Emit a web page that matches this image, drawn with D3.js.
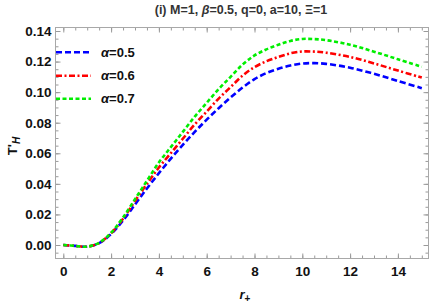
<!DOCTYPE html>
<html lang="en">
<head>
<meta charset="UTF-8">
<title>T'H vs r+</title>
<script src="https://d3js.org/d3.v7.min.js"></script>
<style>
  body { margin: 0; background: #fff; }
  svg text { font-family: 'Liberation Sans', Arial, sans-serif; }
  .tick text { font-weight: bold; font-size: 13.5px; fill: #111; }
</style>
</head>
<body>
<svg width="431" height="308"></svg>
<script>
    // values
    const rPlus = [0, 0.5, 1, 1.5, 2, 2.5, 3, 3.5, 4, 4.5, 5, 5.5, 6, 6.5, 7, 7.5, 8, 8.5, 9, 9.5, 10, 10.5, 11, 12, 13, 14, 15];
    const alpha05 = [0, -0.0006, -0.0011, 0.0012, 0.0072, 0.016, 0.0265, 0.037, 0.047, 0.0565, 0.0655, 0.074, 0.082, 0.0895, 0.0965, 0.103, 0.1085, 0.1125, 0.1153, 0.1174, 0.1187, 0.119, 0.1185, 0.116, 0.112, 0.1073, 0.1026];
    const alpha06 = [0, -0.0006, -0.0011, 0.0013, 0.0077, 0.0172, 0.0288, 0.04, 0.0507, 0.0601, 0.0695, 0.0789, 0.0873, 0.0958, 0.1033, 0.1108, 0.1164, 0.1202, 0.123, 0.1254, 0.1266, 0.1265, 0.1258, 0.123, 0.1188, 0.1141, 0.1095];
    const alpha07 = [0, -0.0006, -0.0011, 0.0015, 0.008, 0.018, 0.03, 0.042, 0.054, 0.064, 0.074, 0.084, 0.093, 0.102, 0.11, 0.118, 0.124, 0.128, 0.131, 0.1335, 0.1348, 0.1347, 0.134, 0.131, 0.1265, 0.1215, 0.1166];
    const seriesNames = ['0.5', '0.6', '0.7'];
    const xTicks = [0, 2, 4, 6, 8, 10, 12, 14];
    const yTicks = [0, 0.02, 0.04, 0.06, 0.08, 0.1, 0.12, 0.14];

    const series = [
      { name: seriesNames[0], values: alpha05, color: '#0000ff', dash: '6,3' },
      { name: seriesNames[1], values: alpha06, color: '#ff0000', dash: '6,2.5,2,2.5' },
      { name: seriesNames[2], values: alpha07, color: '#00ee00', dash: '4,2.5' }
    ];

    const svg = d3.select('svg');

    // frame box
    const frameL = 55.5, frameR = 428.5, frameT = 27.5, frameB = 258.5;

    const x = d3.scaleLinear().domain([0, 15]).range([63.3, 421.8]);
    const y = d3.scaleLinear().domain([0, 0.14]).range([245, 31]);

    const minorX = d3.range(0, 15.01, 0.5);
    const minorY = d3.range(-0.005, 0.1426, 0.005);

    const tickColor = '#9a9a9a';

    // bottom
    const gb = svg.append('g').attr('transform', `translate(0, ${frameB})`);
    gb.call(d3.axisBottom(x).tickValues(minorX).tickSize(-3).tickFormat(''));
    gb.append('g').call(d3.axisBottom(x).tickValues(xTicks).tickSize(-5).tickPadding(8).tickFormat(d3.format('d')));
    // top
    const gt = svg.append('g').attr('transform', `translate(0, ${frameT})`);
    gt.call(d3.axisTop(x).tickValues(minorX).tickSize(-3).tickFormat(''));
    gt.append('g').call(d3.axisTop(x).tickValues(xTicks).tickSize(-5).tickFormat(''));
    // left
    const gl = svg.append('g').attr('transform', `translate(${frameL}, 0)`);
    gl.call(d3.axisLeft(y).tickValues(minorY).tickSize(-3).tickFormat(''));
    gl.append('g').call(d3.axisLeft(y).tickValues(yTicks).tickSize(-5).tickPadding(4).tickFormat(d3.format('.2f')));
    // right
    const gr = svg.append('g').attr('transform', `translate(${frameR}, 0)`);
    gr.call(d3.axisRight(y).tickValues(minorY).tickSize(-3).tickFormat(''));
    gr.append('g').call(d3.axisRight(y).tickValues(yTicks).tickSize(-5).tickFormat(''));

    svg.selectAll('.domain').remove();
    svg.selectAll('.tick line').attr('stroke', tickColor);

    svg.append('rect')
      .attr('x', frameL).attr('y', frameT)
      .attr('width', frameR - frameL).attr('height', frameB - frameT)
      .attr('fill', 'none')
      .attr('stroke', '#a8a8a8')
      .attr('stroke-width', 1);

    const line = d3.line()
      .x((d, i) => x(rPlus[i]))
      .y((d) => y(d))
      .curve(d3.curveCatmullRom);

    series.forEach((s) => {
      svg.append('path')
        .attr('d', line(s.values))
        .attr('fill', 'none')
        .attr('stroke', s.color)
        .attr('stroke-width', 2.6)
        .attr('stroke-dasharray', s.dash);
    });

    // legend
    const legY = [52.3, 75.7, 98.7];
    series.forEach((s, i) => {
      svg.append('line')
        .attr('x1', 56).attr('x2', 91)
        .attr('y1', legY[i]).attr('y2', legY[i])
        .attr('stroke', s.color)
        .attr('stroke-width', 2.6)
        .attr('stroke-dasharray', s.dash);
      const t = svg.append('text')
        .attr('x', 101).attr('y', legY[i] + 4.5)
        .attr('font-size', 13).attr('font-weight', 'bold').attr('fill', '#111');
      t.append('tspan').attr('font-style', 'italic').text('α');
      t.append('tspan').text('=' + s.name);
    });

    // title
    const title = svg.append('text')
      .attr('x', 241).attr('y', 14)
      .attr('text-anchor', 'middle')
      .attr('font-size', 12.5).attr('font-weight', 'bold').attr('fill', '#333');
    title.append('tspan').text('(i) M=1, ');
    title.append('tspan').attr('font-style', 'italic').text('β');
    title.append('tspan').text('=0.5, q=0, a=10, Ξ=1');

    // x label
    const xl = svg.append('text')
      .attr('x', 245).attr('y', 299)
      .attr('text-anchor', 'middle')
      .attr('font-size', 13).attr('font-weight', 'bold').attr('fill', '#111');
    xl.append('tspan').attr('font-style', 'italic').text('r');
    xl.append('tspan').attr('font-size', 10).attr('dy', 3).text('+');

    // y label
    const yl = svg.append('text')
      .attr('transform', 'translate(17, 146) rotate(-90)')
      .attr('text-anchor', 'middle')
      .attr('font-size', 13).attr('font-weight', 'bold').attr('fill', '#111');
    yl.append('tspan').text("T'");
    yl.append('tspan').attr('font-style', 'italic').attr('font-size', 10).attr('dy', 3).text('H');
</script>
</body>
</html>
